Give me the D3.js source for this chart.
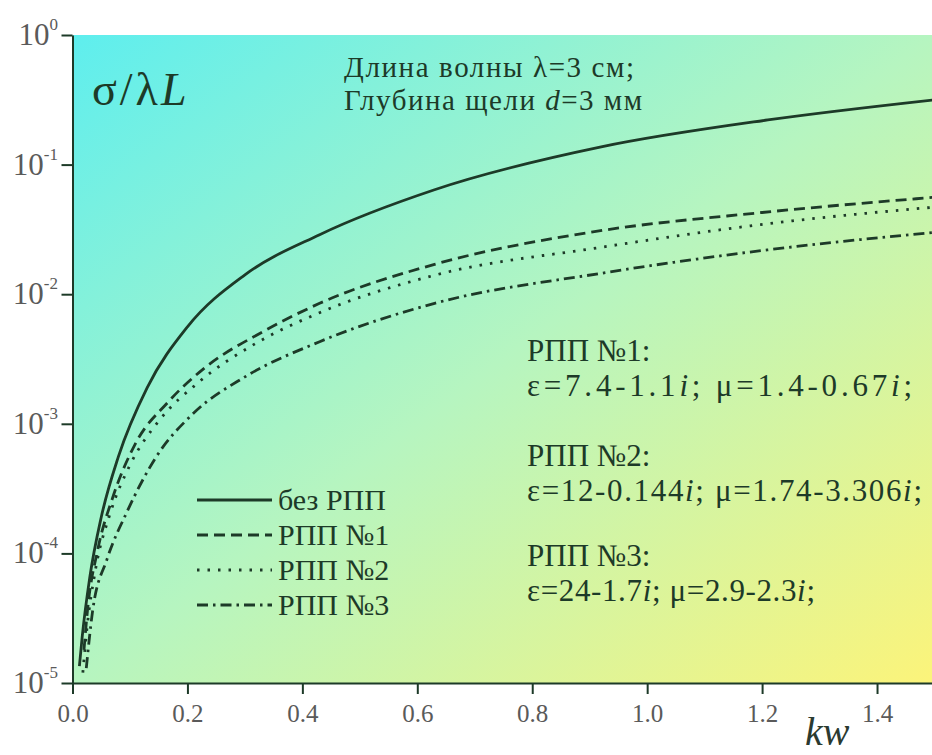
<!DOCTYPE html>
<html>
<head>
<meta charset="utf-8">
<script src="https://cdn.jsdelivr.net/npm/d3@7"></script>
<style>
  body { margin: 0; background: #fff; }
  svg { display: block; }
</style>
</head>
<body>
<div id="chart"></div>
<script>
// data (kw, sigma/lambda L)
var kwSolid = [0.012, 0.017, 0.03, 0.05, 0.08, 0.13, 0.2, 0.3, 0.43, 0.63, 0.92, 1.21, 1.5];
var sSolid  = [1.35e-5, 2.3e-5, 6.5e-5, 1.9e-4, 5.6e-4, 1.9e-3, 5.6e-3, 1.41e-2, 2.88e-2, 6.4e-2, 0.137, 0.221, 0.316];

var kw1 = [0.02, 0.026, 0.044, 0.07, 0.11, 0.165, 0.23, 0.33, 0.43, 0.63, 0.9, 1.2, 1.5];
var s1  = [1.8e-5, 3.6e-5, 1.07e-4, 2.7e-4, 7.1e-4, 1.45e-3, 2.7e-3, 5.1e-3, 8.5e-3, 1.7e-2, 3.0e-2, 4.27e-2, 5.6e-2];

var kw2 = [0.018, 0.025, 0.04, 0.065, 0.1, 0.15, 0.22, 0.32, 0.43, 0.63, 0.92, 1.21, 1.5];
var s2  = [1.2e-5, 2.6e-5, 7.5e-5, 2.0e-4, 4.8e-4, 1.05e-3, 2.1e-3, 4.2e-3, 7.2e-3, 1.4e-2, 2.3e-2, 3.5e-2, 4.7e-2];

var kw3 = [0.024, 0.035, 0.06, 0.095, 0.145, 0.21, 0.3, 0.43, 0.63, 0.92, 1.21, 1.5];
var s3  = [1.3e-5, 3.6e-5, 9e-5, 2.1e-4, 5.5e-4, 1.2e-3, 2.3e-3, 4.3e-3, 8.5e-3, 1.45e-2, 2.2e-2, 3.0e-2];

var xMajor = [0, 0.2, 0.4, 0.6, 0.8, 1.0, 1.2, 1.4];
var xMinor = [0.1, 0.3, 0.5, 0.7, 0.9, 1.1, 1.3, 1.5];
var yMajor = [1e-5, 1e-4, 1e-3, 1e-2, 1e-1, 1];
var yExp   = ["-5", "-4", "-3", "-2", "-1", "0"];

var legendNames = ["без РПП", "РПП №1", "РПП №2", "РПП №3"];
var dashes = [null, "11,6", "2.5,8", "11,5,2.5,5"];

var width = 932, height = 755;
var plotL = 72.5, plotR = 934.5, plotT = 35, plotB = 683;
var ink = "#1d3a28";
var serif = "'Liberation Serif', 'Times New Roman', serif";

var svg = d3.select("#chart").append("svg")
  .attr("width", width)
  .attr("height", height)
  .attr("font-family", serif);

var x = d3.scaleLinear().domain([0, 1.5]).range([plotL, plotR]);
var y = d3.scaleLog().domain([1e-5, 1]).range([plotB, plotT]);

// background gradient
var defs = svg.append("defs");
var grad = defs.append("linearGradient").attr("id", "bg")
  .attr("x1", 0).attr("y1", 0).attr("x2", 1).attr("y2", 1);
grad.append("stop").attr("offset", "0%").attr("stop-color", "#5eeeee");
grad.append("stop").attr("offset", "50%").attr("stop-color", "#b6f5c0");
grad.append("stop").attr("offset", "100%").attr("stop-color", "#fcf47a");

defs.append("clipPath").attr("id", "plot")
  .append("rect").attr("x", plotL).attr("y", plotT)
  .attr("width", plotR - plotL).attr("height", plotB - plotT);

svg.append("rect")
  .attr("x", plotL).attr("y", plotT)
  .attr("width", plotR - plotL).attr("height", plotB - plotT)
  .attr("fill", "url(#bg)");

// curves
var series = [
  {kw: kwSolid, s: sSolid},
  {kw: kw1, s: s1},
  {kw: kw2, s: s2},
  {kw: kw3, s: s3}
];

var line = d3.line()
  .x(function(d) { return x(d[0]); })
  .y(function(d) { return y(d[1]); })
  .curve(d3.curveMonotoneX);

var curves = svg.append("g").attr("clip-path", "url(#plot)");
series.forEach(function(sr, i) {
  var pts = sr.kw.map(function(k, j) { return [k, sr.s[j]]; });
  curves.append("path")
    .attr("d", line(pts))
    .attr("fill", "none")
    .attr("stroke", ink)
    .attr("stroke-width", 2.8)
    .attr("stroke-dasharray", dashes[i]);
});

// axes
var gx = svg.append("g").attr("transform", "translate(0," + plotB + ")");
gx.call(d3.axisBottom(x).tickValues(xMinor).tickSize(6).tickSizeOuter(0).tickFormat(""));
gx.call(d3.axisBottom(x).tickValues(xMajor).tickSize(11).tickSizeOuter(0).tickFormat(d3.format(".1f")));
gx.selectAll("text")
  .attr("y", 31)
  .attr("dy", "0.32em")
  .attr("font-family", serif)
  .style("font-size", "25px")
  .style("fill", "#5a5a5a");

var yMinor = [];
yMajor.slice(0, 5).forEach(function(m) {
  for (var k = 2; k <= 9; k++) yMinor.push(m * k);
});

var gy = svg.append("g").attr("transform", "translate(" + plotL + ",0)");
gy.call(d3.axisLeft(y).tickValues(yMinor).tickSize(6).tickSizeOuter(0).tickFormat(""));
gy.call(d3.axisLeft(y).tickValues(yMajor).tickSize(11).tickSizeOuter(0).tickFormat(""));

svg.selectAll(".domain, .tick line")
  .attr("stroke", ink)
  .attr("stroke-width", 2);

var ylab = svg.append("g");
yMajor.forEach(function(v, i) {
  var t = ylab.append("text")
    .attr("x", 58)
    .attr("y", y(v) + 10)
    .attr("text-anchor", "end")
    .style("font-size", "31px")
    .style("fill", "#5a5a5a")
    .text("10");
  t.append("tspan")
    .attr("dy", -15)
    .style("font-size", "17px")
    .text(yExp[i]);
});

// axis titles
svg.append("text")
  .attr("x", 805).attr("y", 745)
  .style("font-size", "40px")
  .style("font-style", "italic")
  .style("fill", "#2b3a30")
  .text("kw");

var yt = svg.append("text")
  .attr("x", 92).attr("y", 105)
  .style("font-size", "46px")
  .style("letter-spacing", "3px")
  .style("fill", ink)
  .text("σ/λ");
yt.append("tspan").style("font-style", "italic").text("L");

// annotation text, one text element per block, one tspan row per line
function note(xp, yp, rows, gap, size) {
  var t = svg.append("text")
    .style("font-size", size + "px")
    .style("fill", ink);
  rows.forEach(function(row, r) {
    var ln = t.append("tspan").attr("x", xp).attr("y", yp + r * gap);
    if (row.len) ln.attr("textLength", row.len).attr("lengthAdjust", "spacing");
    row.parts.forEach(function(p) {
      ln.append("tspan")
        .style("font-style", p[1] ? "italic" : "normal")
        .text(p[0]);
    });
  });
}

note(344, 77, [
  {parts: [["Длина волны λ=3 см;"]], len: 290},
  {parts: [["Глубина щели "], ["d", 1], ["=3 мм"]], len: 298}
], 33, 29);

note(527, 361, [
  {parts: [["РПП №1:"]]},
  {parts: [["ε=7.4-1.1"], ["i", 1], ["; μ=1.4-0.67"], ["i", 1], [";"]], len: 385}
], 35, 31);
note(527, 466, [
  {parts: [["РПП №2:"]]},
  {parts: [["ε=12-0.144"], ["i", 1], ["; μ=1.74-3.306"], ["i", 1], [";"]], len: 395}
], 35, 31);
note(527, 566, [
  {parts: [["РПП №3:"]]},
  {parts: [["ε=24-1.7"], ["i", 1], ["; μ=2.9-2.3"], ["i", 1], [";"]], len: 288}
], 35, 31);

// legend
var leg = svg.append("g");
legendNames.forEach(function(name, i) {
  var ly = 500 + i * 35;
  leg.append("line")
    .attr("x1", 197).attr("x2", 272)
    .attr("y1", ly).attr("y2", ly)
    .attr("stroke", ink)
    .attr("stroke-width", 2.8)
    .attr("stroke-dasharray", dashes[i]);
  leg.append("text")
    .attr("x", 278).attr("y", ly + 10)
    .style("font-size", "30px")
    .style("fill", ink)
    .text(name);
});
</script>
</body>
</html>
